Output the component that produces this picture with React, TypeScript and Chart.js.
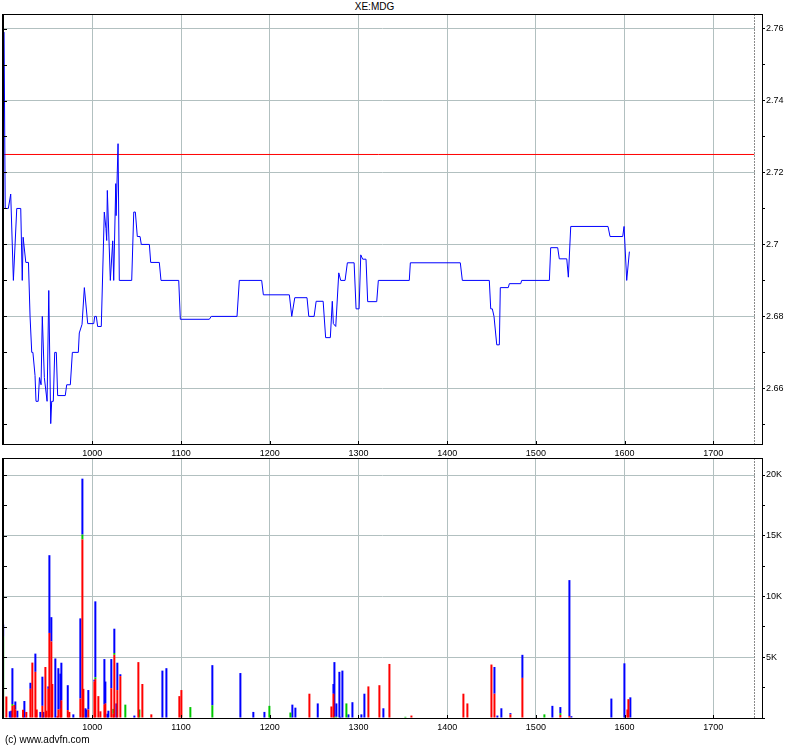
import React, { useEffect, useRef } from 'react';
import { Chart, registerables } from 'chart.js';

Chart.register(...registerables);

// ---------- data ----------
const priceX = [
  899.5, 900.5, 901.8, 905.3, 908.0, 911.0, 914.8, 919.3, 921.0, 922.0, 925.0, 928.0, 929.8, 931.7, 933.0,
  935.4, 936.5, 939.0, 940.4, 942.2, 943.6, 945.9, 949.0, 950.9, 953.1, 954.2, 956.0, 957.6, 959.4, 960.9,
  969.5, 971.1, 975.2, 977.5, 984.2, 985.3, 988.4, 991.0, 994.8, 1001.6, 1002.7, 1004.5, 1006.0, 1010.1,
  1013.5, 1015.4, 1016.2, 1016.9, 1020.3, 1023.0, 1024.1, 1026.4, 1026.8, 1029.0, 1030.4, 1044.4, 1046.7,
  1048.5, 1050.7, 1053.8, 1055.2, 1064.3, 1065.8, 1075.5, 1077.4, 1097.4, 1099.2, 1131.9, 1134.1, 1163.1,
  1165.7, 1190.9, 1192.8, 1222.1, 1224.8, 1228.2, 1242.0, 1244.0, 1250.0, 1252.3, 1260.2, 1263.0, 1268.3,
  1270.5, 1271.7, 1274.4, 1277.8, 1280.0, 1284.9, 1287.5, 1295.1, 1297.3, 1300.7, 1302.6, 1304.8, 1308.5,
  1310.4, 1320.6, 1322.4, 1357.3, 1358.5, 1414.8, 1417.1, 1447.5, 1449.1, 1450.9, 1452.8, 1455.9, 1458.8,
  1459.9, 1468.9, 1470.1, 1482.9, 1484.0, 1515.2, 1516.7, 1524.6, 1526.4, 1534.8, 1536.6, 1539.3, 1581.3,
  1583.6, 1597.9, 1599.4, 1602.4, 1605.4,
];
const priceY = [
  2.759, 2.759, 2.71, 2.71, 2.714, 2.69, 2.71, 2.71, 2.69, 2.702, 2.695, 2.695, 2.68, 2.67, 2.67,
  2.6636, 2.6564, 2.6564, 2.663, 2.661, 2.68, 2.663, 2.6564, 2.6872, 2.6502, 2.6564, 2.6564, 2.67, 2.67, 2.658,
  2.658, 2.661, 2.661, 2.67, 2.67, 2.6754, 2.6778, 2.688, 2.678, 2.678, 2.68, 2.68, 2.6772, 2.6772,
  2.709, 2.7044, 2.7011, 2.715, 2.69, 2.701, 2.69, 2.7169, 2.708, 2.728, 2.69, 2.69, 2.709,
  2.709, 2.7022, 2.7022, 2.7, 2.7, 2.695, 2.695, 2.69, 2.69, 2.6792, 2.6792, 2.68, 2.68,
  2.69, 2.69, 2.686, 2.686, 2.68, 2.6852, 2.6852, 2.68, 2.68, 2.6842, 2.6842, 2.6741, 2.6741,
  2.6842, 2.678, 2.6772, 2.6921, 2.69, 2.69, 2.6949, 2.6949, 2.6821, 2.6821, 2.6971, 2.6959, 2.6959,
  2.6841, 2.6841, 2.69, 2.69, 2.6949, 2.6949, 2.69, 2.69, 2.6821, 2.6821, 2.68, 2.6721, 2.6721,
  2.688, 2.688, 2.6891, 2.6891, 2.69, 2.69, 2.6991, 2.6991, 2.696, 2.696, 2.6909, 2.705, 2.705,
  2.7022, 2.7022, 2.705, 2.69, 2.698,
];
const REF_LEVEL = 2.725;

const volX = [
  899.5, 903.1, 906.9, 908.7, 909.9, 912.1, 913.2, 915.5, 921.9, 923.4, 925.6, 930.2, 932.4, 935.8, 937.3,
  941.4, 943.7, 944.8, 947.1, 948.2, 950.4, 951.6, 953.8, 954.9, 958.3, 960.6, 961.7, 964.0, 965.1, 972.3,
  974.1, 978.6, 986.5, 988.8, 989.9, 992.2, 993.3, 995.5, 1002.3, 1003.4, 1006.8, 1009.1, 1013.6, 1014.7,
  1017.0, 1018.1, 1021.4, 1023.7, 1024.8, 1027.1, 1028.2, 1031.6, 1037.2, 1047.4, 1051.9, 1053.0, 1056.4,
  1066.5, 1079.0, 1083.5, 1098.1, 1100.4, 1110.5, 1135.3, 1166.9, 1181.5, 1194.0, 1199.6, 1223.3, 1225.5,
  1228.9, 1244.7, 1254.1, 1269.5, 1271.8, 1272.9, 1275.1, 1278.5, 1279.6, 1281.9, 1286.4, 1288.7, 1293.2,
  1303.3, 1306.7, 1311.2, 1323.6, 1328.1, 1334.9, 1352.9, 1359.7, 1418.3, 1422.8, 1449.9, 1453.3, 1456.6,
  1461.1, 1471.3, 1484.8, 1509.6, 1518.6, 1527.6, 1537.8, 1540.0, 1585.1, 1599.8, 1603.2, 1604.3, 1606.5,
];
const volRed = [
  0, 1770, 0, 0, 1000, 1070, 680, 0, 680, 0, 500, 2400, 4560, 3800, 700,
  0, 1000, 0, 4200, 600, 2400, 7000, 6300, 2800, 0, 150, 700, 750, 1450, 650,
  500, 0, 1600, 14700, 2400, 0, 0, 700, 3000, 3200, 1800, 550, 1100, 1200,
  0, 0, 2450, 350, 5200, 0, 2300, 3450, 0, 0, 4600, 0, 2800,
  300, 0, 0, 1800, 2300, 0, 0, 0, 0, 0, 0, 0, 0,
  0, 2000, 0, 950, 2000, 0, 0, 0, 0, 0, 0, 0, 0,
  0, 0, 2600, 2700, 0, 4450, 0, 200, 2000, 1200, 4400, 2000, 0,
  0, 300, 3300, 0, 0, 250, 150, 0, 0, 0, 700, 1550, 0,
];
const volGreen = [
  6700, 0, 0, 0, 150, 0, 0, 0, 0, 0, 0, 0, 0, 0, 0,
  0, 0, 0, 0, 0, 0, 0, 0, 0, 0, 0, 0, 0, 0, 0,
  0, 0, 0, 400, 0, 0, 0, 0, 0, 150, 0, 0, 0, 0,
  0, 0, 0, 400, 150, 0, 0, 0, 1100, 0, 0, 700, 0,
  0, 0, 0, 0, 0, 900, 1050, 0, 0, 0, 1000, 450, 0,
  0, 0, 0, 0, 0, 100, 100, 0, 0, 0, 1200, 0, 0,
  0, 0, 0, 0, 0, 0, 100, 0, 0, 0, 0, 0, 0,
  0, 0, 0, 300, 0, 150, 0, 0, 0, 0, 0, 0, 0,
];
const volBlue = [
  1000, 0, 550, 600, 2950, 0, 680, 600, 0, 1400, 0, 500, 0, 1500, 0,
  500, 2400, 500, 0, 0, 200, 6400, 2000, 0, 4900, 0, 3400, 2900, 3100, 2050,
  0, 300, 6600, 4600, 0, 800, 700, 1600, 150, 6250, 0, 0, 3750, 1800,
  350, 600, 2400, 0, 2000, 1200, 2250, 150, 0, 200, 0, 0, 0,
  0, 3900, 4100, 0, 0, 0, 3300, 3700, 500, 500, 0, 0, 1100,
  850, 0, 1200, 0, 800, 4500, 1100, 3800, 100, 3900, 0, 300, 1300,
  300, 2000, 0, 0, 800, 0, 0, 0, 0, 0, 0, 2200, 200,
  800, 100, 1900, 0, 1000, 500, 11200, 150, 1600, 4500, 0, 0, 1700,
];

const xTickValues = [1000, 1100, 1200, 1300, 1400, 1500, 1600, 1700];
const priceTickValues = [2.65, 2.66, 2.67, 2.68, 2.69, 2.7, 2.71, 2.72, 2.73, 2.74, 2.75, 2.76];
const volTickValues = [0, 2500, 5000, 7500, 10000, 12500, 15000, 17500, 20000];

// ---------- styling / geometry ----------
const X_MIN = 899.3;
const X_MAX = 1754.9;
const X_END = 1746.2;
const P_MIN = 2.64454;
const P_MAX = 2.76404;
const V_MAX = 21400;

const GRID = '#b2c0c0';
const FONT = { family: '"Liberation Sans", Arial, sans-serif', size: 9 };

const framePlugin = {
  id: 'frame',
  beforeDatasetsDraw(chart: any) {
    const { ctx, chartArea: a, scales } = chart;
    const xe = Math.round(scales.x.getPixelForValue(X_END));
    ctx.save();
    ctx.fillStyle = '#ffffff';
    ctx.fillRect(xe + 1, a.top + 1, a.right - xe - 1, a.bottom - a.top - 1);
    ctx.strokeStyle = '#8a8a8a';
    ctx.lineWidth = 1;
    ctx.setLineDash([2, 1]);
    ctx.beginPath();
    ctx.moveTo(xe + 0.5, a.top);
    ctx.lineTo(xe + 0.5, a.bottom);
    ctx.stroke();
    ctx.restore();
  },
  afterDraw(chart: any) {
    const { ctx, chartArea: a, scales } = chart;
    ctx.save();
    ctx.strokeStyle = '#000000';
    ctx.lineWidth = 1;
    ctx.beginPath();
    ctx.moveTo(a.left, a.top + 0.5);
    ctx.lineTo(a.right + 1, a.top + 0.5);
    ctx.moveTo(a.left, a.bottom + 0.5);
    ctx.lineTo(a.right + 1, a.bottom + 0.5);
    ctx.moveTo(a.right + 0.5, a.top);
    ctx.lineTo(a.right + 0.5, a.bottom + 1);
    ctx.stroke();
    ctx.lineWidth = 2;
    ctx.beginPath();
    ctx.moveTo(a.left, a.top);
    ctx.lineTo(a.left, a.bottom + 1);
    ctx.stroke();
    ctx.lineWidth = 1;
    ctx.beginPath();
    scales.y.ticks.forEach((t: any) => {
      const y = Math.round(scales.y.getPixelForValue(t.value)) + 0.5;
      ctx.moveTo(a.left, y);
      ctx.lineTo(a.left + 4, y);
    });
    scales.x.ticks.forEach((t: any) => {
      const x = Math.round(scales.x.getPixelForValue(t.value)) + 0.5;
      ctx.moveTo(x, a.bottom);
      ctx.lineTo(x, a.bottom - 3);
    });
    ctx.stroke();
    ctx.restore();
  },
};

const xScale = (height: number) => ({
  type: 'linear',
  min: X_MIN,
  max: X_MAX,
  offset: false,
  afterBuildTicks: (s: any) => {
    s.ticks = xTickValues.map((v) => ({ value: v }));
  },
  afterFit: (s: any) => {
    s.height = height;
  },
  ticks: {
    font: FONT,
    color: '#000',
    padding: 4,
    maxRotation: 0,
    autoSkip: false,
    callback: (v: any) => String(v),
  },
  grid: { color: GRID, drawTicks: false, offset: false },
  border: { display: false },
});

function App() {
  const topRef = useRef<HTMLCanvasElement>(null);
  const botRef = useRef<HTMLCanvasElement>(null);

  useEffect(() => {
    const isMajorP = (v: number) => Math.round(v * 100) % 2 === 0;
    const top = new Chart(topRef.current as HTMLCanvasElement, {
      type: 'line',
      data: {
        datasets: [
          {
            data: priceX.map((x, i) => ({ x, y: priceY[i] })),
            borderColor: '#0000ff',
            borderWidth: 1,
            pointRadius: 0,
            tension: 0,
          },
          {
            data: [
              { x: X_MIN, y: REF_LEVEL },
              { x: X_END, y: REF_LEVEL },
            ],
            borderColor: '#ff0000',
            borderWidth: 1,
            pointRadius: 0,
          },
        ],
      },
      options: {
        animation: false,
        responsive: false,
        maintainAspectRatio: false,
        layout: { padding: { top: 14, left: 3, right: 0, bottom: 0 } },
        plugins: { legend: { display: false }, tooltip: { enabled: false } },
        scales: {
          x: xScale(14) as any,
          y: {
            position: 'right',
            min: P_MIN,
            max: P_MAX,
            afterBuildTicks: (s: any) => {
              s.ticks = priceTickValues.map((v) => ({ value: v }));
            },
            afterFit: (s: any) => {
              s.width = 38;
            },
            ticks: {
              font: FONT,
              color: '#000',
              padding: 1,
              autoSkip: false,
              callback: (v: any) => (isMajorP(v) ? String(Math.round(v * 100) / 100) : ''),
            },
            grid: {
              color: (c: any) => (c.tick && isMajorP(c.tick.value) ? GRID : 'transparent'),
              tickColor: '#000',
              tickLength: 3,
              drawTicks: true,
            },
            border: { display: false },
          },
        },
      },
      plugins: [framePlugin],
    } as any);

    const mk = (vals: number[]) =>
      volX.map((x, i) => ({ x, y: vals[i] })).filter((p) => p.y > 0);
    const isMajorV = (v: number) => v > 0 && v % 5000 === 0;
    const bot = new Chart(botRef.current as HTMLCanvasElement, {
      type: 'bar',
      data: {
        datasets: [
          { data: mk(volRed), backgroundColor: '#ff0000', barThickness: 2, inflateAmount: 0, borderWidth: 0 },
          { data: mk(volGreen), backgroundColor: '#00c800', barThickness: 2, inflateAmount: 0, borderWidth: 0 },
          { data: mk(volBlue), backgroundColor: '#0000ff', barThickness: 2, inflateAmount: 0, borderWidth: 0 },
        ],
      },
      options: {
        animation: false,
        responsive: false,
        maintainAspectRatio: false,
        layout: { padding: { top: 12, left: 3, right: 0, bottom: 0 } },
        plugins: { legend: { display: false }, tooltip: { enabled: false } },
        scales: {
          x: { ...(xScale(29) as any), stacked: true },
          y: {
            position: 'right',
            stacked: true,
            min: 0,
            max: V_MAX,
            afterBuildTicks: (s: any) => {
              s.ticks = volTickValues.map((v) => ({ value: v }));
            },
            afterFit: (s: any) => {
              s.width = 38;
            },
            ticks: {
              font: FONT,
              color: '#000',
              padding: 1,
              autoSkip: false,
              callback: (v: any) => (isMajorV(v) ? v / 1000 + 'K' : ''),
            },
            grid: {
              color: (c: any) => (c.tick && isMajorV(c.tick.value) ? GRID : 'transparent'),
              tickColor: '#000',
              tickLength: 3,
              drawTicks: true,
            },
            border: { display: false },
          },
        },
      },
      plugins: [framePlugin],
    } as any);

    return () => {
      top.destroy();
      bot.destroy();
    };
  }, []);

  return (
    <div
      style={{
        position: 'absolute',
        left: 0,
        top: 0,
        width: 800,
        height: 747,
        background: '#ffffff',
        fontFamily: '"Liberation Sans", Arial, sans-serif',
      }}
    >
      <div
        style={{
          position: 'absolute',
          top: 2,
          left: 0,
          width: 749,
          textAlign: 'center',
          fontSize: 10,
          lineHeight: '10px',
          color: '#000',
        }}
      >
        XE:MDG
      </div>
      <canvas
        ref={topRef}
        width={800}
        height={458}
        style={{ position: 'absolute', left: 0, top: 0, width: 800, height: 458 }}
      />
      <canvas
        ref={botRef}
        width={800}
        height={301}
        style={{ position: 'absolute', left: 0, top: 446, width: 800, height: 301 }}
      />
      <div
        style={{
          position: 'absolute',
          top: 734,
          left: 5,
          fontSize: 10,
          lineHeight: '12px',
          color: '#000',
        }}
      >
        (c) www.advfn.com
      </div>
    </div>
  );
}

export default App;
